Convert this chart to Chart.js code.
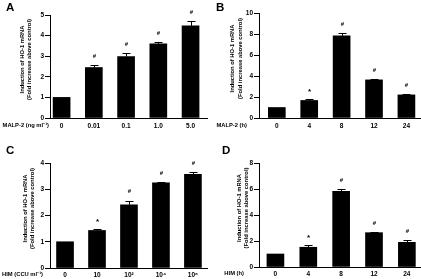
<!DOCTYPE html>
<html lang="en">
<head>
  <meta charset="UTF-8">
  <title>Induction of HO-1 mRNA</title>
  <script src="https://cdn.jsdelivr.net/npm/chart.js@4"></script>
  <style>
    body { margin: 0; background: #fff; }
    #wrap { position: relative; width: 421px; height: 279px; overflow: hidden; }
    canvas { position: absolute; }
  </style>
</head>
<body>
<div id="wrap">
  <canvas id="chartA" width="210" height="140" style="left:0;top:0"></canvas>
  <canvas id="chartB" width="211" height="140" style="left:210px;top:0"></canvas>
  <canvas id="chartC" width="210" height="139" style="left:0;top:140px"></canvas>
  <canvas id="chartD" width="211" height="139" style="left:210px;top:140px"></canvas>
</div>

<script>
  // Valeurs
  const yTitleLines = ['Induction of HO-1 mRNA', '(Fold increase above control)'];

  const labelsA = ['0', '0.01', '0.1', '1.0', '5.0'];
  const meanA = [1.0, 2.45, 2.98, 3.6, 4.47];
  const errA = [0, 0.13, 0.17, 0.08, 0.24];
  const signA = ['', '#', '#', '#', '#'];
  const xTitleA = 'MALP-2 (ng ml\u207B\u00B9)';

  const labelsB = ['0', '4', '8', '12', '24'];
  const meanB = [1.0, 1.67, 7.82, 3.63, 2.2];
  const errB = [0, 0.15, 0.28, 0.09, 0.05];
  const signB = ['', '*', '#', '#', '#'];
  const xTitleB = 'MALP-2 (h)';

  const labelsC = ['0', '10', '10\u00B2', '10\u2074', '10\u2076'];
  const meanC = [1.0, 1.43, 2.41, 3.24, 3.57];
  const errC = [0, 0.06, 0.16, 0.04, 0.09];
  const signC = ['', '*', '#', '#', '#'];
  const xTitleC = 'HIM (CCU ml\u207B\u00B9)';

  const labelsD = ['0', '4', '8', '12', '24'];
  const meanD = [1.0, 1.52, 5.82, 2.64, 1.9];
  const errD = [0, 0.18, 0.15, 0.05, 0.14];
  const signD = ['', '*', '#', '#', '#'];
  const xTitleD = 'HIM (h)';

  const FONT = '"Liberation Sans", Arial, sans-serif';
  Chart.defaults.font.family = FONT;
  Chart.defaults.font.weight = 'bold';
  Chart.defaults.color = '#000';

  // dessin des barres d'erreur, symboles, titres et lettre du panneau
  function extras(p) {
    return {
      id: 'extras',
      afterDatasetsDraw(chart) {
        const ctx = chart.ctx;
        const y = chart.scales.y;
        const meta = chart.getDatasetMeta(0);
        ctx.save();
        ctx.strokeStyle = '#000';
        ctx.fillStyle = '#000';
        ctx.lineWidth = 1;
        ctx.textAlign = 'center';
        ctx.textBaseline = 'middle';
        meta.data.forEach((bar, i) => {
          const x = Math.round(bar.x) + 0.5;
          const top = y.getPixelForValue(p.means[i] + p.errors[i]);
          if (p.errors[i] > 0) {
            const t = Math.round(top) + 0.5;
            ctx.beginPath();
            ctx.moveTo(x, bar.y);
            ctx.lineTo(x, t);
            ctx.moveTo(x - 4, t);
            ctx.lineTo(x + 4, t);
            ctx.stroke();
          }
          const s = p.signs[i];
          if (s) {
            // l'étoile est plus petite que le dièse dans la police
            ctx.font = 'bold ' + (s === '*' ? 8 : 6) + 'px ' + FONT;
            ctx.fillText(s, x, top - (s === '*' ? 7.5 : 9));
          }
        });
        ctx.restore();
      },
      afterDraw(chart) {
        const ctx = chart.ctx;
        const area = chart.chartArea;
        ctx.save();
        ctx.fillStyle = '#000';

        // lettre
        ctx.font = 'bold 11.5px ' + FONT;
        ctx.textAlign = 'left';
        ctx.textBaseline = 'top';
        ctx.fillText(p.letter, p.letterPos[0], p.letterPos[1]);

        // titre de l'axe y (2 lignes)
        ctx.font = 'bold 5.8px ' + FONT;
        ctx.textAlign = 'center';
        ctx.textBaseline = 'middle';
        const cy = (area.top + area.bottom) / 2 - 7;
        yTitleLines.forEach((line, i) => {
          ctx.save();
          ctx.translate(p.yTitleX[i], cy);
          ctx.rotate(-Math.PI / 2);
          ctx.fillText(line, 0, 0);
          ctx.restore();
        });

        // titre de l'axe x, sur la ligne des graduations
        ctx.textAlign = 'right';
        ctx.fillText(p.xTitle, p.xTitleEnd, area.bottom + p.labelGap);
        ctx.restore();
      }
    };
  }

  function makePanel(p) {
    const canvas = document.getElementById(p.id);
    const W = canvas.width, H = canvas.height;
    new Chart(canvas, {
      type: 'bar',
      data: {
        datasets: [{
          data: p.means.map((v, i) => ({ x: i, y: v })),
          backgroundColor: '#000',
          borderWidth: 0,
          barThickness: 17
        }]
      },
      options: {
        responsive: false,
        animation: false,
        layout: { padding: { left: 0, right: W - p.area.right, top: p.area.top, bottom: 0 } },
        plugins: { legend: { display: false }, tooltip: { enabled: false } },
        scales: {
          x: {
            type: 'linear',
            min: p.xRange[0],
            max: p.xRange[1],
            offset: false,
            bounds: 'data',
            afterBuildTicks: (s) => { s.ticks = p.labels.map((_, i) => ({ value: i })); },
            afterFit: (s) => { s.height = H - p.area.bottom; },
            grid: { display: true, drawOnChartArea: false, drawTicks: false, offset: false },
            border: { display: true, color: '#000', width: 1 },
            ticks: {
              autoSkip: false,
              maxRotation: 0,
              padding: p.labelGap - 3,
              font: { size: 6.5, weight: 'bold' },
              callback: (v) => p.labels[v]
            }
          },
          y: {
            min: 0,
            max: p.yMax,
            afterFit: (s) => { s.width = p.area.left; },
            grid: { drawOnChartArea: false, drawTicks: true, tickLength: 5, color: '#000' },
            border: { display: true, color: '#000', width: 1 },
            ticks: { stepSize: p.yStep, padding: 1, font: { size: 6.5, weight: 'bold' } }
          }
        }
      },
      plugins: [extras(p)]
    });
  }

  makePanel({ id: 'chartA', letter: 'A', labels: labelsA, means: meanA, errors: errA, signs: signA,
    xTitle: xTitleA, yMax: 5, yStep: 1, xRange: [-0.36, 4.51],
    area: { left: 50, right: 207, top: 15, bottom: 118 }, labelGap: 7,
    yTitleX: [22, 29.5], xTitleEnd: 49, letterPos: [6, 2] });

  makePanel({ id: 'chartB', letter: 'B', labels: labelsB, means: meanB, errors: errB, signs: signB,
    xTitle: xTitleB, yMax: 10, yStep: 2, xRange: [-0.55, 4.45],
    area: { left: 49, right: 211, top: 13, bottom: 118 }, labelGap: 7,
    yTitleX: [22.5, 30], xTitleEnd: 37, letterPos: [6, 2] });

  makePanel({ id: 'chartC', letter: 'C', labels: labelsC, means: meanC, errors: errC, signs: signC,
    xTitle: xTitleC, yMax: 4, yStep: 1, xRange: [-0.47, 4.44],
    area: { left: 50, right: 207, top: 23, bottom: 128 }, labelGap: 6,
    yTitleX: [25, 32.5], xTitleEnd: 43, letterPos: [6, 5] });

  makePanel({ id: 'chartD', letter: 'D', labels: labelsD, means: meanD, errors: errD, signs: signD,
    xTitle: xTitleD, yMax: 8, yStep: 2, xRange: [-0.5, 4.43],
    area: { left: 49, right: 211, top: 23, bottom: 127 }, labelGap: 6,
    yTitleX: [29.5, 36], xTitleEnd: 34, letterPos: [12, 5] });
</script>
</body>
</html>
